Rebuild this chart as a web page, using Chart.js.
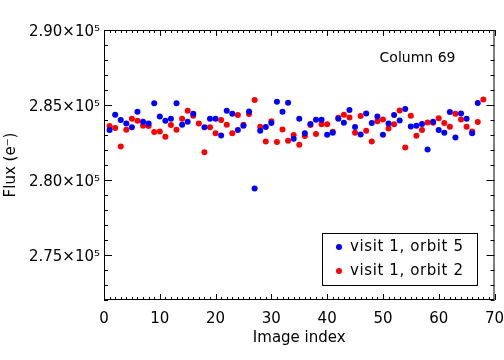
<!DOCTYPE html>
<html>
<head>
<meta charset="utf-8">
<script src="https://cdn.jsdelivr.net/npm/chart.js@4.4.1/dist/chart.umd.min.js"></script>
<style>
  html, body { margin: 0; padding: 0; background: #fff; }
  canvas { display: block; }
</style>
</head>
<body>
<canvas id="flux-chart" width="504" height="360"></canvas>
<script>
// image index of each exposure
const imageIndex = [
  1, 2, 3, 4, 5, 6, 7, 8, 9, 10,
  11, 12, 13, 14, 15, 16, 17, 18, 19, 20,
  21, 22, 23, 24, 25, 26, 27, 28, 29, 30,
  31, 32, 33, 34, 35, 36, 37, 38, 39, 40,
  41, 42, 43, 44, 45, 46, 47, 48, 49, 50,
  51, 52, 53, 54, 55, 56, 57, 58, 59, 60,
  61, 62, 63, 64, 65, 66, 67, 68
];

// visit 1, orbit 5 (blue) - null where there is no exposure
const orbit5Flux = [
  283330, 284350, 284000, 283770, 283510, 284550, 283890, 283770, 285110, 284240,
  283950, 284090, 285110, 283690, 283890, 284420, null, 283510, 284090, 284090,
  282970, 284620, 284420, 283330, 283620, 284570, 279440, 283290, 283530, 283800,
  285220, 284550, 285150, 282750, 284090, 283110, 283730, 284020, 284020, 283020,
  283150, 284090, 283820, 284670, 283530, 283040, 284440, 283800, 284240, 283020,
  283770, 284330, 283970, 284730, 283570, 283620, 283730, 282040, 283890, 283330,
  283150, 284530, 282840, 284440, 284090, 283110, 285130, null
];

// visit 1, orbit 2 (red)
const orbit2Flux = [
  283600, 283470, 282240, 283350, 284090, 283950, 283620, 283600, 283200, 283240,
  282890, 283670, 283350, 284090, 284620, 284290, 283770, 281850, 283510, 283110,
  284000, 283690, 283110, 284330, 283690, 284400, 285330, 283550, 282570, 283910,
  282530, 283370, 282620, 283000, 282350, 282930, 283670, 283070, 283710, 283710,
  283220, 284150, 284350, 284170, 283150, 284270, 283290, 282570, 283910, 284040,
  283440, 283710, 284640, 282170, 284290, 282950, 283330, 283840, 283820, 284110,
  283800, 283550, 284420, 284040, 283550, 283240, 283870, 285370
];

const seriesLabels = ['visit 1, orbit 5', 'visit 1, orbit 2'];
const seriesColors = ['#0000ff', '#ff0000'];
const xTicks = [0, 10, 20, 30, 40, 50, 60, 70];
const yTicks = [275000, 280000, 285000, 290000];
const panelLabel = 'Column 69';

const FONT = 'DejaVu Sans';
Chart.defaults.font.family = FONT;
Chart.defaults.font.size = 15;
Chart.defaults.color = '#000';

function toPoints(values) {
  const pts = [];
  values.forEach((v, i) => {
    if (v !== null) pts.push({ x: imageIndex[i], y: v });
  });
  return pts;
}

// IDL-like frame: box, inward ticks on all sides, legend and panel label
const framePlugin = {
  id: 'frame',
  afterDraw(chart) {
    const { ctx, chartArea: a, scales: { x, y } } = chart;
    ctx.save();
    ctx.strokeStyle = '#000';
    ctx.lineWidth = 1;
    ctx.strokeRect(a.left + 0.5, a.top + 0.5, a.right - a.left - 1, a.bottom - a.top - 1);

    ctx.beginPath();
    for (let v = x.min; v <= x.max; v += 1) {
      const len = v % 10 === 0 ? 6 : 3;
      const px = Math.round(x.getPixelForValue(v)) + 0.5;
      ctx.moveTo(px, a.bottom); ctx.lineTo(px, a.bottom - len);
      ctx.moveTo(px, a.top); ctx.lineTo(px, a.top + len);
    }
    for (let v = y.min; v <= y.max; v += 1000) {
      const len = v % 5000 === 0 ? 8 : 4;
      const py = Math.round(y.getPixelForValue(v)) + 0.5;
      ctx.moveTo(a.left, py); ctx.lineTo(a.left + len, py);
      ctx.moveTo(a.right, py); ctx.lineTo(a.right - len, py);
    }
    ctx.stroke();

    // panel label
    ctx.fillStyle = '#000';
    ctx.font = '14px ' + FONT;
    ctx.textAlign = 'center';
    ctx.textBaseline = 'middle';
    ctx.fillText(panelLabel, a.right - 77, a.top + 28);

    // legend box
    const bw = 155, bh = 52;
    const bx = Math.round(a.right - 18 - bw), by = Math.round(a.bottom - 15 - bh);
    ctx.fillStyle = '#fff';
    ctx.fillRect(bx, by, bw, bh);
    ctx.strokeRect(bx + 0.5, by + 0.5, bw, bh);
    ctx.textAlign = 'left';
    ctx.font = '15px ' + FONT;
    ctx.letterSpacing = '0.6px';
    chart.data.datasets.forEach((ds, i) => {
      const cy = by + 14 + i * 24;
      ctx.fillStyle = ds.backgroundColor;
      ctx.beginPath();
      ctx.arc(bx + 17, cy, 3, 0, Math.PI * 2);
      ctx.fill();
      ctx.fillStyle = '#000';
      ctx.fillText(ds.label, bx + 28, cy);
    });
    ctx.restore();
  }
};

new Chart(document.getElementById('flux-chart'), {
  type: 'scatter',
  data: {
    datasets: [
      { label: seriesLabels[0], data: toPoints(orbit5Flux), backgroundColor: seriesColors[0],
        borderWidth: 0, pointRadius: 3 },
      { label: seriesLabels[1], data: toPoints(orbit2Flux), backgroundColor: seriesColors[1],
        borderWidth: 0, pointRadius: 3 }
    ]
  },
  options: {
    responsive: false,
    animation: false,
    devicePixelRatio: 1,
    layout: { padding: { top: 30, right: 9.5, bottom: 0, left: 0 } },
    plugins: { legend: { display: false }, tooltip: { enabled: false } },
    scales: {
      x: {
        type: 'linear',
        min: 0,
        max: 70,
        afterFit: s => { s.height = 60; s.paddingLeft = 0; s.paddingRight = 0; },
        afterBuildTicks: s => { s.ticks = xTicks.map(v => ({ value: v })); },
        grid: { display: false, drawTicks: false },
        border: { display: false },
        ticks: { padding: 10, maxRotation: 0, autoSkip: false },
        title: { display: true, text: 'Image index', padding: { top: 0, bottom: 13 } }
      },
      y: {
        type: 'linear',
        min: 272000,
        max: 290000,
        afterFit: s => { s.width = 104; s.paddingTop = 0; s.paddingBottom = 0; },
        afterBuildTicks: s => { s.ticks = yTicks.map(v => ({ value: v })); },
        grid: { display: false, drawTicks: false },
        border: { display: false },
        ticks: {
          padding: 4,
          labelOffset: 2,
          callback: v => (v / 1e5).toFixed(2) + '×10⁵'
        },
        title: { display: true, text: 'Flux (e⁻)', padding: { top: 2, bottom: 0 } }
      }
    }
  },
  plugins: [framePlugin]
});
</script>
</body>
</html>
